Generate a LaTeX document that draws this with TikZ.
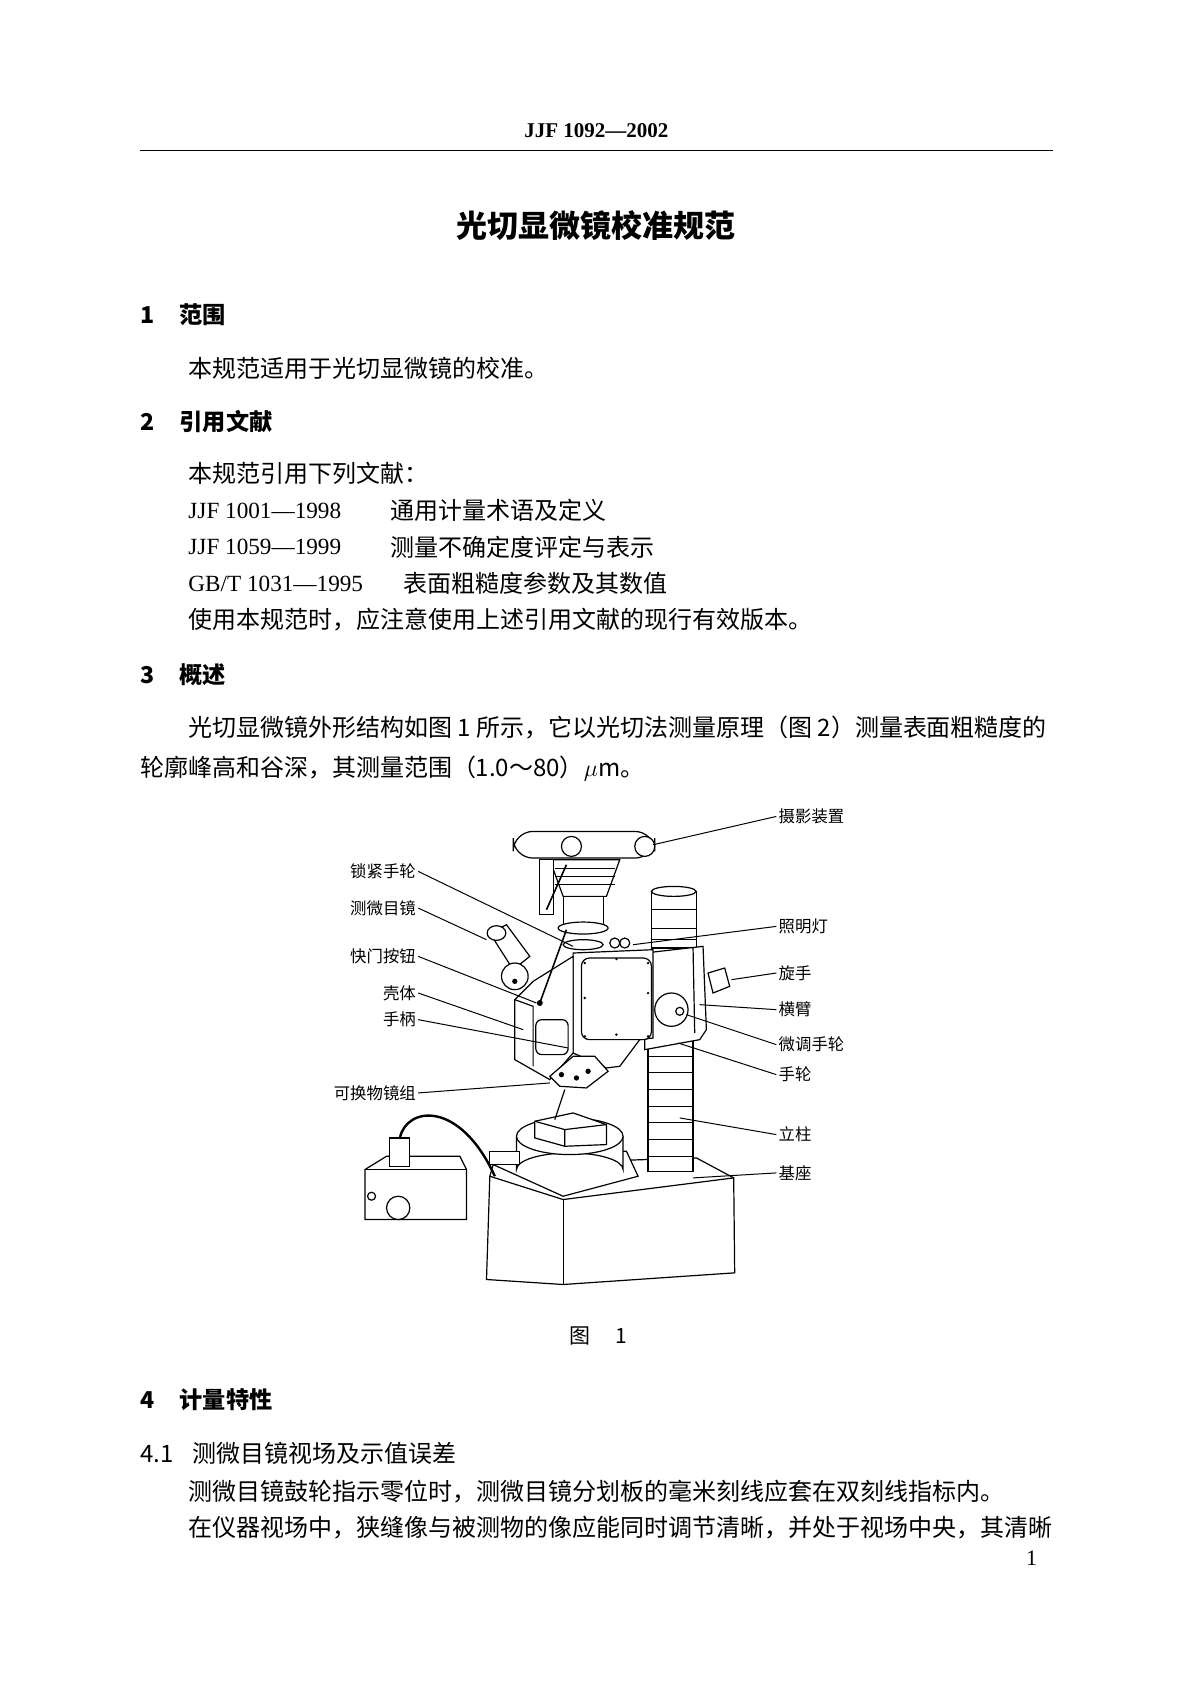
\documentclass[tikz,border=0pt]{standalone}
\usepackage{fontspec}
\setmainfont{Liberation Serif}
\newfontfamily\cjk{Noto Sans CJK SC}
\usetikzlibrary{positioning}
\tikzset{
    txt/.style={
           anchor=west,
           inner sep=0pt,
           font=\cjk\fontsize{12}{12}\selectfont,
           },
}
\tikzset{
    head/.style={
           anchor=west,
           inner sep=0pt,
           font=\cjk\bfseries\fontsize{11.6}{12}\selectfont,
           },
}
\tikzset{
    lbl/.style={
           inner sep=1pt,
           font=\cjk\fontsize{8.2}{9}\selectfont,
           },
    part/.style={draw=black, line width=0.6pt, fill=white},
}

\begin{document}
\begin{tikzpicture}[x=0.5375pt,y=-0.5375pt]
\useasboundingbox (0,0) rectangle (1108,1567);
% header
\node[inner sep=0pt, font=\bfseries\fontsize{10.5}{12}\selectfont] (hdr) at (555,122) {JJF 1092---2002};
\coordinate (rl) at (130,140);
\coordinate (rr) at (980,140);
\draw[line width=0.8pt] (rl) -- (rr);
\node[inner sep=0pt, font=\cjk\bfseries\fontsize{15.5}{16}\selectfont] (title) at (555,210) {光切显微镜校准规范};
% section 1
\node[head] (s1) at (130,293) {1\hspace{1.1em}范围};
\node[txt] (p1) at (175,343) {本规范适用于光切显微镜的校准。};
% section 2
\node[head] (s2) at (130,392) {2\hspace{1.1em}引用文献};
\node[txt] (p2) at (175,440) {本规范引用下列文献：};
\node[txt, font=\fontsize{11.6}{12}\selectfont] (r1) at (175,475) {JJF 1001---1998};
\node[txt] (r1t) at (363,475) {通用计量术语及定义};
\node[txt, font=\fontsize{11.6}{12}\selectfont] (r2) at (175,509) {JJF 1059---1999};
\node[txt] (r2t) at (363,509) {测量不确定度评定与表示};
\node[txt, font=\fontsize{11.6}{12}\selectfont] (r3) at (175,543) {GB/T 1031---1995};
\node[txt] (r3t) at (375,543) {表面粗糙度参数及其数值};
\node[txt] (p3) at (175,577) {使用本规范时，应注意使用上述引用文献的现行有效版本。};
% section 3
\node[head] (s3) at (130,628) {3\hspace{1.1em}概述};
\node[txt] (p4) at (175,677) {光切显微镜外形结构如图 1 所示，它以光切法测量原理（图 2）测量表面粗糙度的};
\node[txt] (p5) at (130,715) {轮廓峰高和谷深，其测量范围（1.0～80）$\mu$m。};
% figure
\begin{scope}[shift={(297.7,744.2)}, scale=0.31]
% base
\draw[part] (520,1095) -- (1130,1075) -- (1242,1135) -- (1245,1420) -- (730,1455) -- (500,1440) -- (510,1130) -- cycle;
\draw[line width=0.6pt] (510,1130) -- (730,1200) -- (1242,1135);
\draw[line width=0.6pt] (730,1200) -- (730,1455);
% stage plate and table
\draw[part] (520,1095) -- (600,1055) -- (920,1055) -- (955,1130) -- (730,1190) -- cycle;
\draw[part] (590,1010) -- (590,1110) arc[start angle=180, end angle=360, x radius=160, y radius=50] -- (910,1010);
\draw[part] (750,1010) ellipse[x radius=160, y radius=55];
\draw[part] (510,1055) rectangle (600,1095);
\draw[part] (645,965) -- (760,940) -- (860,975) -- (860,1035) -- (735,1040) -- (645,1015) -- cycle;
\draw[line width=0.6pt] (645,965) -- (735,990) -- (860,975) (735,990) -- (735,1040);
% column
\draw[part] (985,700) rectangle (1120,1115);
\foreach \yy in {770,820,870,920,970,1020,1070}
  \draw[line width=0.5pt] (985,\yy) -- (1120,\yy);
\draw[part] (995,275) rectangle (1130,445);
\draw[part] (1062,275) ellipse[x radius=67, y radius=15];
\foreach \yy in {330,385,420}
  \draw[line width=0.5pt] (995,\yy) -- (1130,\yy);
% arm
\draw[part] (975,460) -- (1150,440) -- (1160,690) -- (1140,720) -- (975,750) -- cycle;
\draw[line width=0.6pt] (1120,445) -- (1125,700);
\draw[part] (1055,630) circle (50);
\draw[part] (1080,635) circle (12);
\draw[part] (1165,520) -- (1215,505) -- (1230,560) -- (1180,580) -- cycle;
% main body
\draw[part] (760,460) -- (1000,450) -- (1000,715) -- (960,720) -- (900,800) -- (860,805) -- (760,760) -- cycle;
\draw[part, rounded corners=4pt] (785,475) rectangle (995,720);
\foreach \px/\py in {795/490, 985/490, 795/710, 985/710, 890/478, 890/705, 795/595, 985/580}
  \fill (\px,\py) circle (4);
% left housing
\draw[part] (640,545) -- (760,470) -- (760,760) -- (690,840) -- (585,780) -- (585,600) -- cycle;
\draw[line width=0.6pt] (585,600) -- (640,620) -- (640,800);
\draw[part, rounded corners=3pt] (648,660) rectangle (745,765);
% objective turret
\draw[part] (690,830) -- (760,770) -- (825,770) -- (865,815) -- (800,865) -- (720,860) -- cycle;
\foreach \px/\py in {725/825, 770/835, 805/815}
  \fill (\px,\py) circle (8);
\draw[line width=0.6pt] (735,870) -- (705,960);
% camera
\draw[part] (690,180) -- (900,180) -- (860,290) -- (730,290) -- cycle;
\draw[part, rounded corners=10pt] (580,95) -- (1005,95) -- (1005,175) -- (580,175) -- cycle;
\draw[part] (660,180) rectangle (700,345);
\foreach \yy in {205,230,255}
  \draw[line width=0.5pt] (705,\yy) -- (885,\yy);
\draw[part] (730,290) rectangle (850,375);
\draw[part] (790,385) ellipse[x radius=75, y radius=18];
\draw[part] (790,435) ellipse[x radius=60, y radius=15];
\draw[part] (755,140) circle (30);
\draw[part] (975,140) circle (30);
\draw[line width=0.8pt] (680,330) -- (740,195);
% eyepiece
\draw[part] (510,400) -- (560,375) -- (630,470) -- (580,510) -- cycle;
\draw[part] (530,400) ellipse[x radius=28, y radius=22];
\draw[part] (585,530) circle (40);
\fill (585,545) circle (8);
\draw[line width=0.8pt] (740,390) -- (660,610);
\fill (660,610) circle (9);
% lamp knobs
\draw[part] (885,430) circle (15);
\draw[part] (915,430) circle (15);
% lamp box
\draw[part] (135,1110) -- (200,1070) -- (420,1070) -- (440,1110) -- (440,1260) -- (135,1260) -- cycle;
\draw[line width=0.6pt] (135,1110) -- (440,1110);
\draw[part] (235,1225) circle (35);
\draw[part] (155,1190) circle (12);
\draw[part] (210,1015) rectangle (270,1100);
\draw[line width=1.2pt] (240,1015) .. controls (260,920) and (420,900) .. (525,1130);
% labels right
\node[lbl, anchor=west] (camL) at (1370,50) {摄影装置};
\node[lbl, anchor=west] (lampL) at (1370,380) {照明灯};
\node[lbl, anchor=west] (turnL) at (1370,520) {旋手};
\node[lbl, anchor=west] (armL) at (1370,630) {横臂};
\node[lbl, anchor=west] (fineL) at (1370,735) {微调手轮};
\node[lbl, anchor=west] (wheelL) at (1370,825) {手轮};
\node[lbl, anchor=west] (colL) at (1370,1005) {立柱};
\node[lbl, anchor=west] (baseL) at (1370,1120) {基座};
\coordinate (camP) at (1000,135);
\coordinate (lampP) at (940,435);
\coordinate (turnP) at (1235,540);
\coordinate (armP) at (1140,615);
\coordinate (fineP) at (1100,645);
\coordinate (wheelP) at (1075,730);
\coordinate (colP) at (1080,955);
\coordinate (baseP) at (1120,1135);
\foreach \a in {cam,lamp,turn,arm,fine,wheel,col,base}
  \draw[line width=0.5pt] (\a L.west) -- (\a P);
% labels left
\node[lbl, anchor=east] (lockL) at (295,215) {锁紧手轮};
\node[lbl, anchor=east] (eyeL) at (295,325) {测微目镜};
\node[lbl, anchor=east] (shutL) at (295,470) {快门按钮};
\node[lbl, anchor=east] (shellL) at (295,580) {壳体};
\node[lbl, anchor=east] (handL) at (295,660) {手柄};
\node[lbl, anchor=east] (objL) at (295,880) {可换物镜组};
\coordinate (lockP) at (760,440);
\coordinate (eyeP) at (500,420);
\coordinate (shutP) at (650,610);
\coordinate (shellP) at (610,690);
\coordinate (handP) at (745,745);
\coordinate (objP) at (690,850);
\foreach \a in {lock,eye,shut,shell,hand,obj}
  \draw[line width=0.5pt] (\a L.east) -- (\a P);
\end{scope}
\node[inner sep=0pt, font=\cjk\fontsize{10.5}{12}\selectfont] (cap) at (557,1243) {图\hspace{1.2em}1};
% section 4
\node[head] (s4) at (130,1302) {4\hspace{1.1em}计量特性};
\node[txt] (s41) at (130,1352) {4.1\hspace{0.8em}测微目镜视场及示值误差};
\node[txt] (p6) at (175,1388) {测微目镜鼓轮指示零位时，测微目镜分划板的毫米刻线应套在双刻线指标内。};
\node[txt] (p7) at (175,1421) {在仪器视场中，狭缝像与被测物的像应能同时调节清晰，并处于视场中央，其清晰};
\node[inner sep=0pt, font=\fontsize{11}{12}\selectfont] (pg) at (960,1450) {1};
\end{tikzpicture}
\end{document}
